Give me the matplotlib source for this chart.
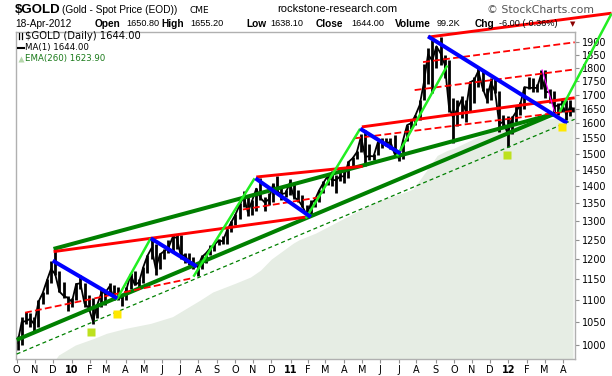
import numpy as np
import pandas as pd
import matplotlib
matplotlib.use('Agg')
import matplotlib.pyplot as plt
from matplotlib.lines import Line2D
from matplotlib.ticker import FixedLocator, NullLocator

START = np.datetime64('2009-10-01')


def bd(dates):
    # trading-day index (weekdays) counted from the first bar
    return np.busday_count(START, np.array(dates, dtype='datetime64[D]'))


# weekly bars of $GOLD (Friday closes, last bar 18-Apr-2012)
week_end = list(pd.date_range('2009-10-02', '2012-04-13', freq='W-FRI').strftime('%Y-%m-%d')) + ['2012-04-18']
week_high = [1020, 1062, 1072, 1070, 1062, 1100, 1120, 1150, 1195, 1226, 1170, 1142, 1110,
             1105, 1140, 1160, 1140, 1112, 1105, 1090, 1125, 1120, 1140, 1135, 1130, 1110,
             1130, 1165, 1170, 1150, 1180, 1210, 1249, 1240, 1215, 1225, 1250, 1262, 1265,
             1262, 1215, 1215, 1205, 1190, 1210, 1215, 1235, 1242, 1253, 1260, 1278, 1300,
             1320, 1350, 1387, 1375, 1360, 1395, 1424, 1370, 1380, 1410, 1432, 1395, 1390, 1422,
             1410, 1390, 1375, 1345, 1360, 1370, 1390, 1415, 1440, 1445, 1435, 1447,
             1448, 1476, 1490, 1510, 1565, 1577, 1530, 1500, 1540, 1550, 1550, 1552, 1560,
             1510, 1545, 1595, 1610, 1630, 1680, 1815, 1878, 1911, 1885, 1920, 1850, 1830, 1690,
             1680, 1695, 1680, 1750, 1765, 1805, 1790, 1725, 1760, 1765, 1715, 1630, 1625,
             1625, 1665, 1675, 1730, 1765, 1760, 1740, 1790, 1792, 1720, 1715, 1670, 1680,
             1680, 1680, 1655]
week_low = [990, 1000, 1045, 1040, 1025, 1040, 1090, 1115, 1140, 1160, 1118, 1105, 1075,
            1085, 1100, 1125, 1085, 1075, 1045, 1060, 1085, 1088, 1115, 1100, 1100, 1087,
            1100, 1125, 1135, 1125, 1140, 1165, 1200, 1160, 1175, 1200, 1215, 1220, 1225,
            1200, 1190, 1185, 1175, 1157, 1175, 1190, 1210, 1220, 1237, 1240, 1240, 1270,
            1290, 1305, 1340, 1315, 1318, 1330, 1360, 1330, 1345, 1355, 1380, 1360, 1370, 1375,
            1363, 1355, 1340, 1310, 1320, 1340, 1355, 1380, 1405, 1400, 1380, 1415,
            1410, 1425, 1455, 1485, 1505, 1462, 1480, 1480, 1495, 1520, 1525, 1515, 1500,
            1478, 1485, 1540, 1580, 1595, 1610, 1680, 1740, 1705, 1800, 1810, 1760, 1640, 1535,
            1590, 1620, 1605, 1640, 1670, 1730, 1715, 1670, 1680, 1705, 1570, 1585, 1523,
            1565, 1605, 1630, 1650, 1720, 1710, 1710, 1720, 1688, 1670, 1635, 1627, 1640,
            1612, 1625, 1638]
week_close = [1004, 1050, 1052, 1057, 1045, 1096, 1116, 1146, 1175, 1162, 1120, 1110, 1105,
              1096, 1138, 1140, 1092, 1082, 1052, 1088, 1117, 1118, 1133, 1103, 1107, 1105,
              1125, 1162, 1136, 1142, 1179, 1208, 1228, 1176, 1212, 1220, 1228, 1256, 1256,
              1208, 1210, 1189, 1189, 1180, 1205, 1215, 1228, 1237, 1248, 1246, 1275, 1297,
              1318, 1345, 1370, 1325, 1358, 1393, 1366, 1353, 1362, 1405, 1385, 1377, 1380, 1410,
              1368, 1360, 1342, 1318, 1348, 1361, 1388, 1410, 1430, 1420, 1418, 1430,
              1430, 1474, 1486, 1505, 1556, 1490, 1493, 1492, 1536, 1542, 1530, 1540, 1500,
              1486, 1542, 1594, 1601, 1628, 1663, 1744, 1852, 1828, 1884, 1856, 1812, 1656, 1620,
              1650, 1682, 1642, 1745, 1754, 1788, 1725, 1685, 1745, 1712, 1598, 1606, 1565,
              1616, 1639, 1665, 1728, 1725, 1725, 1725, 1775, 1710, 1710, 1658, 1662, 1668,
              1630, 1660, 1644]

# EMA(260) shaded area
ema_dates = ['2009-11-02', '2009-12-01', '2009-12-10', '2010-01-07', '2010-02-08', '2010-03-01',
             '2010-04-01', '2010-05-13', '2010-06-18', '2010-08-04', '2010-08-25', '2010-10-01',
             '2010-10-27', '2010-11-12', '2010-12-01', '2011-01-06', '2011-01-17', '2011-02-14',
             '2011-04-05', '2011-05-25', '2011-07-15', '2011-07-26', '2011-08-15', '2011-09-05',
             '2011-09-21', '2011-10-03', '2011-11-01', '2011-12-01', '2012-01-02', '2012-02-01',
             '2012-03-01', '2012-04-02', '2012-04-18']
ema_vals = [940, 962, 979, 1000, 1014, 1025, 1036, 1047, 1062, 1100, 1119, 1140,
            1155, 1172, 1200, 1241, 1250, 1268, 1311, 1355, 1385, 1392, 1440, 1495,
            1511, 1518, 1545, 1572, 1587, 1602, 1613, 1621, 1624]

# hand-drawn trendlines: (start date, start price, end date, end price)
thick_green = [('2009-10-01', 1011, '2012-03-19', 1633),
               ('2009-12-02', 1226, '2012-03-19', 1633)]
green_dashed = [('2009-10-01', 981, '2012-04-20', 1614)]
red_solid = [('2009-12-02', 1219, '2011-01-28', 1312),
             ('2010-11-05', 1428, '2011-05-03', 1461),
             ('2011-05-02', 1588, '2012-04-20', 1689)]
red_top = [('2011-08-19', 1921, '2012-06-21', 2021)]
red_dashed = [('2009-10-15', 1071, '2010-07-21', 1152),
              ('2010-10-14', 1333, '2011-02-21', 1368),
              ('2011-04-19', 1550, '2012-04-20', 1644),
              ('2011-07-28', 1717, '2012-04-20', 1794),
              ('2011-08-11', 1822, '2012-04-20', 1900)]
lime = [('2010-03-17', 1100, '2010-05-13', 1254),
        ('2010-07-23', 1156, '2010-11-03', 1424),
        ('2011-01-27', 1308, '2011-04-28', 1582),
        ('2011-06-29', 1493, '2011-09-21', 1809)]
lime_out = [('2012-03-27', 1639, '2012-06-21', 2019)]
blue = [('2009-12-01', 1196, '2010-03-18', 1104),
        ('2010-05-13', 1254, '2010-07-29', 1181),
        ('2010-11-04', 1424, '2011-02-04', 1312),
        ('2011-04-28', 1582, '2011-07-05', 1501),
        ('2011-08-19', 1924, '2012-04-09', 1601)]
magenta = [('2012-02-27', 1794, '2012-03-19', 1639)]

# square markers
sq_lime_dates = ['2010-02-03', '2011-12-29']
sq_lime_vals = [1029, 1496]
sq_yellow_dates = ['2010-03-18', '2012-03-30']
sq_yellow_vals = [1068, 1588]

yticks = list(range(1000, 1901, 50))
month_starts = pd.date_range('2009-10-01', '2012-04-01', freq='MS')

W, H = 612, 376
fig = plt.figure(figsize=(W / 100, H / 100), dpi=100)
ax = fig.add_axes([16 / W, 1 - 359 / H, (575 - 16) / W, (359 - 32) / H])
ax.set_yscale('log')
ax.set_ylim(970.8, 1942)
ax.set_xlim(-0.8, 666.4)

ax.fill_between(bd(ema_dates), 900, ema_vals, color='#e6ede4', lw=0, zorder=1)

xw = bd(week_end)
ax.vlines(xw, week_low, week_high, colors='black', lw=2.0, zorder=2)
ax.plot(xw, week_close, color='black', lw=1.3, zorder=2)


def draw(segs, clip=True, **kw):
    for d1, p1, d2, p2 in segs:
        ax.plot(bd([d1, d2]), [p1, p2], clip_on=clip, solid_capstyle='butt', **kw)


draw(thick_green, color='#008000', lw=2.9, zorder=4)
draw(green_dashed, color='#008000', lw=0.9, dashes=(3.2, 2.4), zorder=4)
draw(red_dashed, color='#ff0000', lw=1.3, dashes=(3.8, 1.8), zorder=4)
draw(red_solid, color='#ff0000', lw=2.1, zorder=4)
draw(red_top, clip=False, color='#ff0000', lw=2.1, zorder=4)
draw(lime, color='#22ee22', lw=1.8, zorder=5)
draw(lime_out, clip=False, color='#22ee22', lw=1.8, zorder=5)
draw(blue, color='#0000ff', lw=2.9, zorder=5)
draw(magenta, color='#ff00ff', lw=0.8, zorder=5)

ax.plot(bd(sq_lime_dates), sq_lime_vals, 's', ms=5.8, color='#bde11e', mec='none', zorder=6)
ax.plot(bd(sq_yellow_dates), sq_yellow_vals, 's', ms=5.8, color='#ffe800', mec='none', zorder=6)

# axes styling
for s in ax.spines.values():
    s.set_color('#b0b0b0')
    s.set_linewidth(1.0)
ax.yaxis.tick_right()
ax.yaxis.set_major_locator(FixedLocator(yticks))
ax.yaxis.set_minor_locator(NullLocator())
ax.set_yticklabels([str(v) for v in yticks])
ax.tick_params(axis='y', length=3, width=0.8, color='#909090', labelsize=7, pad=2)

ax.set_xticks(bd(month_starts.strftime('%Y-%m-%d')))
xlabels = [d.strftime('%y') if d.month == 1 else d.strftime('%b')[0] for d in month_starts]
ax.set_xticklabels(xlabels)
for lab, d in zip(ax.get_xticklabels(), month_starts):
    if d.month == 1:
        lab.set_fontweight('bold')
ax.tick_params(axis='x', length=3, width=0.8, color='#909090', labelsize=7, pad=1)


def px(x, y):
    return x / W, 1 - y / H


hdr = 'Liberation Sans'
fig.text(*px(15, 10), '$GOLD', fontsize=9.5, fontweight='bold', family=hdr, va='center')
fig.text(*px(62, 10), '(Gold - Spot Price (EOD))', fontsize=7.3, family=hdr, va='center')
fig.text(*px(190, 10.5), 'CME', fontsize=6.5, family='DejaVu Sans', va='center')
fig.text(*px(277, 9), 'rockstone-research.com', fontsize=8, family=hdr, va='center')
fig.text(*px(487, 10), '\u00a9 StockCharts.com', fontsize=7.8, family='DejaVu Sans',
         color='#555555', va='center')

row2 = [(95, 'Open', 'bold'), (126, '1650.80', 'normal'),
        (161, 'High', 'bold'), (190, '1655.20', 'normal'), (246, 'Low', 'bold'),
        (270, '1638.10', 'normal'), (316, 'Close', 'bold'), (351, '1644.00', 'normal'),
        (395, 'Volume', 'bold'), (437, '99.2K', 'normal'), (475, 'Chg', 'bold'),
        (499, '-6.00 (-0.36%)', 'normal')]
fig.text(*px(15, 24), '18-Apr-2012', fontsize=7.3, family=hdr, va='center')
for x, t, w in row2:
    fig.text(*px(x, 24), t, fontsize=7.3 if w == 'bold' else 6.6, fontweight=w,
             family=hdr, va='center')
fig.text(*px(573, 24), '\u25bc', fontsize=5, color='#8b0000', va='center', ha='center')

# legend in the plot
fig.text(*px(25, 36), '$GOLD (Daily) 1644.00', fontsize=7.2, family='DejaVu Sans', va='center')
fig.text(*px(25, 47.5), 'MA(1) 1644.00', fontsize=6.2, family='DejaVu Sans', va='center')
fig.text(*px(25, 59), 'EMA(260) 1623.90', fontsize=6.2, family='DejaVu Sans', va='center',
         color='#1a7a1a')
fig.add_artist(Line2D([19 / W, 19 / W], [1 - 33 / H, 1 - 39 / H], color='black', lw=0.9))
fig.add_artist(Line2D([22 / W, 22 / W], [1 - 33 / H, 1 - 39 / H], color='black', lw=0.9))
fig.add_artist(Line2D([18 / W, 24 / W], [1 - 47.5 / H, 1 - 47.5 / H], color='black', lw=1.5))
fig.add_artist(Line2D([21 / W], [1 - 59 / H], marker='^', ms=5, color='#b5d6ab', mec='none'))

fig.savefig('out.png', dpi=100)
